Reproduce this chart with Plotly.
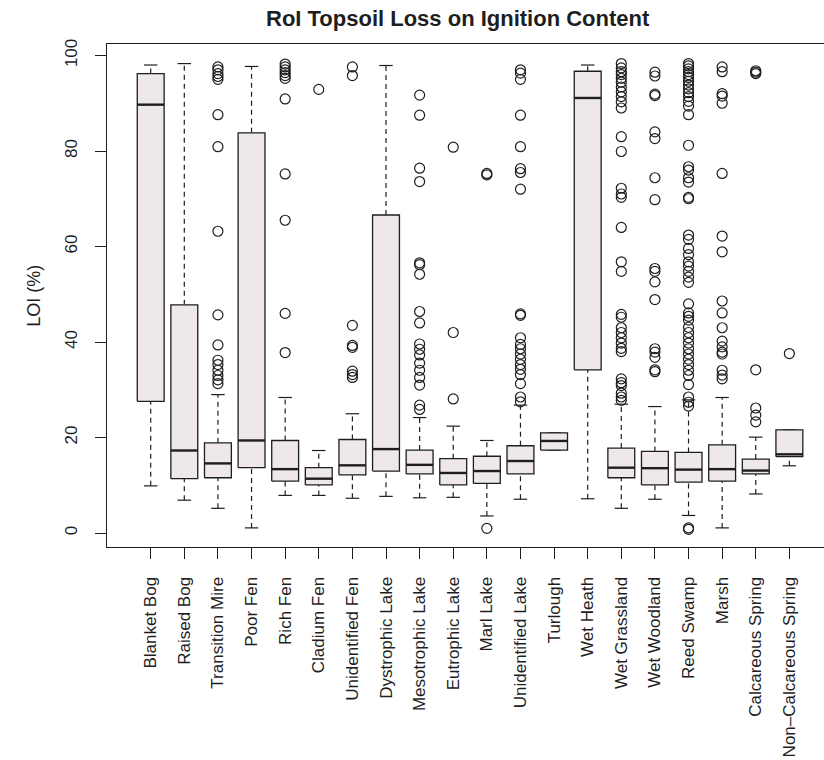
import plotly.graph_objects as go

# Habitat classes along the x axis
habitats = [
    "Blanket Bog", "Raised Bog", "Transition Mire", "Poor Fen", "Rich Fen",
    "Cladium Fen", "Unidentified Fen", "Dystrophic Lake", "Mesotrophic Lake",
    "Eutrophic Lake", "Marl Lake", "Unidentified Lake", "Turlough", "Wet Heath",
    "Wet Grassland", "Wet Woodland", "Reed Swamp", "Marsh", "Calcareous Spring",
    "Non\u2013Calcareous Spring",
]

# Five-number summaries of LOI (%) per habitat
whisker_low = [9.9, 6.9, 5.2, 1.1, 7.9, 7.9, 7.3, 7.7, 7.4, 7.5,
               3.6, 7.1, 17.4, 7.2, 5.2, 7.1, 3.7, 1.1, 8.2, 14.1]
q1 = [27.6, 11.4, 11.6, 13.7, 10.9, 10.1, 12.2, 13.0, 12.4, 10.1,
      10.4, 12.4, 17.4, 34.2, 11.6, 10.1, 10.7, 10.9, 12.4, 16.0]
median = [89.7, 17.3, 14.6, 19.4, 13.4, 11.4, 14.2, 17.6, 14.3, 12.6,
          13.0, 15.1, 19.3, 91.1, 13.7, 13.6, 13.3, 13.4, 13.1, 16.5]
q3 = [96.2, 47.8, 18.9, 83.8, 19.4, 13.7, 19.6, 66.6, 17.4, 15.6,
      16.1, 18.3, 21.0, 96.7, 17.8, 17.1, 16.9, 18.5, 15.5, 21.6]
whisker_high = [98.0, 98.3, 29.0, 97.7, 28.4, 17.3, 25.0, 97.9, 24.2, 22.4,
                19.4, 26.8, 21.0, 98.0, 27.0, 26.5, 27.9, 28.4, 20.1, 21.6]

# Outlying samples per habitat
out_transition_mire = [97.6, 97.0, 96.2, 95.6, 95.0, 87.6, 80.9, 63.2, 45.7,
                       39.4, 36.2, 35.3, 34.1, 33.0, 32.1, 31.3]
out_rich_fen = [98.2, 97.6, 97.0, 96.4, 95.8, 95.2, 90.9, 75.2, 65.5, 46.0, 37.8]
out_cladium_fen = [92.9]
out_unidentified_fen = [97.6, 95.8, 43.5, 39.3, 38.9, 33.9, 33.2, 32.6]
out_mesotrophic_lake = [91.7, 87.5, 76.4, 73.6, 56.6, 56.2, 54.2, 46.4, 44.0,
                        39.6, 38.5, 37.3, 35.6, 34.1, 32.6, 31.0, 26.8, 25.9]
out_eutrophic_lake = [80.8, 42.0, 28.1]
out_marl_lake = [75.3, 75.0, 1.0]
out_unidentified_lake = [97.0, 96.3, 95.0, 87.5, 80.9, 76.3, 75.5, 72.0, 45.9,
                         45.6, 40.9, 39.5, 38.6, 37.5, 36.4, 35.3, 34.3, 33.2,
                         31.3, 28.5, 27.5]
out_wet_grassland = [98.3, 97.4, 96.6, 96.0, 95.2, 94.4, 93.4, 92.4, 91.4, 90.3,
                     89.0, 83.0, 79.9, 72.2, 71.0, 70.3, 64.0, 56.8, 54.8, 45.8,
                     45.2, 43.0, 42.0, 40.9, 39.8, 38.7, 38.0, 32.3, 31.5, 30.9,
                     29.3, 28.5, 27.8]
out_wet_woodland = [96.5, 95.7, 91.9, 91.6, 84.0, 82.6, 74.4, 69.8, 55.4, 54.8,
                    52.6, 48.9, 38.6, 37.9, 36.8, 34.2, 33.8]
out_reed_swamp = [98.3, 97.8, 97.2, 96.6, 96.0, 95.4, 94.6, 93.8, 93.0, 92.2,
                  91.4, 90.4, 89.4, 87.6, 81.2, 76.7, 76.0, 74.4, 73.5, 70.3,
                  70.0, 62.4, 61.5, 59.6, 58.3, 56.8, 55.9, 54.8, 53.6, 52.5,
                  48.0, 46.1, 45.4, 44.6, 43.1, 42.0, 40.9, 39.8, 38.6, 37.5,
                  36.4, 35.3, 34.1, 33.0, 31.1, 28.5, 27.4, 26.6, 1.1, 0.8]
out_marsh = [97.6, 96.6, 92.0, 91.5, 90.0, 75.3, 62.2, 58.9, 48.6, 46.1, 43.0,
             40.2, 39.0, 37.9, 37.5, 34.1, 33.1, 32.3]
out_calcareous_spring = [96.8, 96.5, 96.2, 34.2, 26.2, 24.7, 23.3]
out_non_calcareous_spring = [37.6]

outliers = {
    "Transition Mire": out_transition_mire,
    "Rich Fen": out_rich_fen,
    "Cladium Fen": out_cladium_fen,
    "Unidentified Fen": out_unidentified_fen,
    "Mesotrophic Lake": out_mesotrophic_lake,
    "Eutrophic Lake": out_eutrophic_lake,
    "Marl Lake": out_marl_lake,
    "Unidentified Lake": out_unidentified_lake,
    "Wet Grassland": out_wet_grassland,
    "Wet Woodland": out_wet_woodland,
    "Reed Swamp": out_reed_swamp,
    "Marsh": out_marsh,
    "Calcareous Spring": out_calcareous_spring,
    "Non\u2013Calcareous Spring": out_non_calcareous_spring,
}

FONT = "Liberation Sans, Arial, Helvetica, sans-serif"
INK = "#1e1e1e"
BOX_FILL = "#efe8e8"
HALF_BOX = 0.4      # box half-width in category units
HALF_STAPLE = 0.2   # whisker cap half-width

positions = list(range(1, len(habitats) + 1))
fig = go.Figure()

# Dashed whiskers from the hinges out to the extremes
wx, wy = [], []
for p, lo, a, b, hi in zip(positions, whisker_low, q1, q3, whisker_high):
    wx += [p, p, None, p, p, None]
    wy += [lo, a, None, b, hi, None]
fig.add_trace(go.Scatter(x=wx, y=wy, mode="lines", hoverinfo="skip",
                         line=dict(color=INK, width=1.2, dash="5px,4px")))

# Whisker caps
sx, sy = [], []
for p, lo, hi in zip(positions, whisker_low, whisker_high):
    sx += [p - HALF_STAPLE, p + HALF_STAPLE, None, p - HALF_STAPLE, p + HALF_STAPLE, None]
    sy += [lo, lo, None, hi, hi, None]
fig.add_trace(go.Scatter(x=sx, y=sy, mode="lines", hoverinfo="skip",
                         line=dict(color=INK, width=1.2)))

# Boxes (inter-quartile range)
for p, a, b in zip(positions, q1, q3):
    fig.add_trace(go.Scatter(
        x=[p - HALF_BOX, p + HALF_BOX, p + HALF_BOX, p - HALF_BOX, p - HALF_BOX],
        y=[a, a, b, b, a],
        mode="lines", fill="toself", fillcolor=BOX_FILL, hoverinfo="skip",
        line=dict(color=INK, width=1.3)))

# Medians
mx, my = [], []
for p, m in zip(positions, median):
    mx += [p - HALF_BOX, p + HALF_BOX, None]
    my += [m, m, None]
fig.add_trace(go.Scatter(x=mx, y=my, mode="lines", hoverinfo="skip",
                         line=dict(color=INK, width=2.4)))

# Outliers
ox, oy = [], []
for p, name in zip(positions, habitats):
    for v in outliers.get(name, []):
        ox.append(p)
        oy.append(v)
fig.add_trace(go.Scatter(x=ox, y=oy, mode="markers", hoverinfo="skip",
                         marker=dict(symbol="circle-open", size=10, color=INK,
                                     line=dict(width=1.2))))

fig.update_layout(
    width=824, height=760,
    margin=dict(l=107, r=0, t=44, b=213, pad=0),
    paper_bgcolor="white", plot_bgcolor="white",
    showlegend=False,
    font=dict(family=FONT, size=17, color=INK),
    annotations=[
        dict(text="<b>RoI Topsoil Loss on Ignition Content</b>",
             xref="paper", yref="paper", x=0.49, y=1.05,
             xanchor="center", yanchor="middle", showarrow=False,
             font=dict(family=FONT, size=22, color=INK)),
        dict(text="LOI (%)", textangle=-90,
             xref="paper", yref="paper", x=-0.103, y=0.5,
             xanchor="center", yanchor="middle", showarrow=False,
             font=dict(family=FONT, size=18, color=INK)),
    ],
)

fig.update_xaxes(
    range=[-0.3, 21.03], tickmode="array", tickvals=positions, ticktext=habitats,
    tickangle=-90, ticks="outside", ticklen=11, tickwidth=1.2, tickcolor=INK,
    showline=True, linecolor=INK, linewidth=1.2, mirror=True,
    showgrid=False, zeroline=False, ticklabelstandoff=11,
)
fig.update_yaxes(
    range=[-2.9, 102.4], tickmode="array", tickvals=[0, 20, 40, 60, 80, 100],
    tickangle=-90, ticks="outside", ticklen=11, tickwidth=1.2, tickcolor=INK,
    showline=True, linecolor=INK, linewidth=1.2, mirror=False,
    showgrid=False, zeroline=False, ticklabelstandoff=11,
    tickfont=dict(size=17),
)

fig.write_html("out.html")
